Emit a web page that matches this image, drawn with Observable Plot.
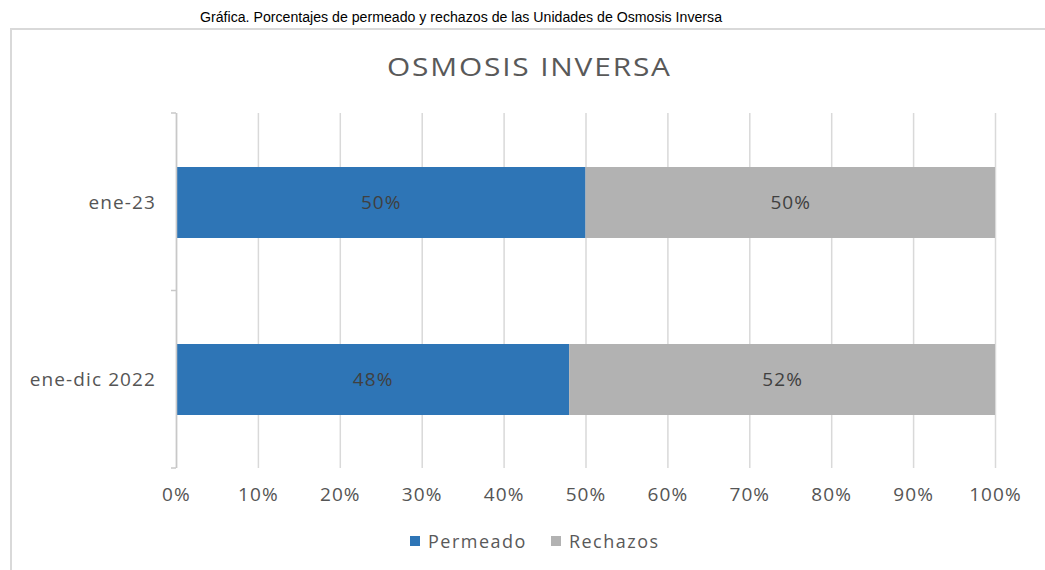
<!DOCTYPE html>
<html>
<head>
<meta charset="utf-8">
<script src="https://cdn.jsdelivr.net/npm/d3@7"></script>
<script src="https://cdn.jsdelivr.net/npm/@observablehq/plot@0.6"></script>
<style>
  html, body { margin: 0; padding: 0; background: #fff; }
  #wrap { position: relative; width: 1045px; height: 570px; overflow: hidden; background: #fff; }
  #caption { position: absolute; left: 200px; top: 7px; line-height: 20px; font-family: "Liberation Sans", Arial, sans-serif; font-size: 14px; color: #000; white-space: nowrap; transform-origin: 0 0; }
  #box { position: absolute; left: 10px; top: 28px; width: 1100px; height: 600px; border-top: 2px solid #d9d9d9; border-left: 2px solid #d9d9d9; }
  #title { position: absolute; top: 49px; line-height: 34px; font-family: "Open Sans", sans-serif; font-size: 26px; letter-spacing: 1.6px; color: #595959; white-space: nowrap; transform-origin: 0 0; }
  #chart { position: absolute; left: 0; top: 0; }
  #legend { position: absolute; top: 529px; left: 410px; line-height: 24px; font-family: "Open Sans", sans-serif; font-size: 18px; color: #595959; display: flex; letter-spacing: 1.5px; white-space: nowrap; }
  #legend .item { display: flex; align-items: center; margin-right: 24px; }
  #legend .sw { width: 10px; height: 10px; display: inline-block; margin-right: 8px; }
</style>
</head>
<body>
<div id="wrap">
  <div id="caption"></div>
  <div id="box"></div>
  <div id="title"></div>
  <div id="chart"></div>
  <div id="legend"></div>
</div>
<script>
const captionText = "Gráfica. Porcentajes de permeado y rechazos de las Unidades de Osmosis Inversa";
const titleText = "OSMOSIS INVERSA";
const categories = ["ene-23", "ene-dic 2022"];
const series = ["Permeado", "Rechazos"];
const permeado = [0.50, 0.48];
const rechazos = [0.50, 0.52];
const xTicks = [0, 0.1, 0.2, 0.3, 0.4, 0.5, 0.6, 0.7, 0.8, 0.9, 1.0];
const colors = ["#2e75b6", "#b2b2b2"];

const data = categories.flatMap((c, i) => [
  {cat: c, series: series[0], value: permeado[i]},
  {cat: c, series: series[1], value: rechazos[i]}
]);

// caption, fitted to the reference's width
const cap = document.getElementById("caption");
cap.textContent = captionText;
const capW = cap.getBoundingClientRect().width;
cap.style.transform = `scaleX(${522 / capW})`;

// title: horizontally widened glyphs, centred over the chart box
const ttl = document.getElementById("title");
ttl.textContent = titleText;
const tW = ttl.getBoundingClientRect().width - 1.6;
const tTarget = 283;
ttl.style.left = (528 - tTarget / 2) + "px";
ttl.style.transform = `scaleX(${tTarget / tW})`;

const pct = d3.format(".0%");

// left axis line with small ticks at category band boundaries
function bandTicks(index, scales, values, dimensions) {
  const {marginTop, marginBottom, marginLeft, height} = dimensions;
  const top = marginTop, bottom = height - marginBottom;
  const n = categories.length;
  const g = d3.create("svg:g").attr("stroke", "#c8c8c8").attr("stroke-width", 1.5);
  for (let k = 0; k <= n; k++) {
    const yy = top + k * (bottom - top) / n;
    g.append("line").attr("x1", marginLeft - 5).attr("x2", marginLeft).attr("y1", yy).attr("y2", yy);
  }
  return g.node();
}

const chart = Plot.plot({
  width: 1045,
  height: 520,
  marginLeft: 176,
  marginRight: 50,
  marginTop: 113,
  marginBottom: 52,
  style: {fontFamily: "'Open Sans', sans-serif", fontSize: "19px", letterSpacing: "1.1px", color: "#555555", background: "transparent", overflow: "visible"},
  x: {domain: [0, 1], ticks: xTicks, tickFormat: pct, tickSize: 0, tickPadding: 19, label: null},
  y: {domain: categories, paddingInner: 0.6, paddingOuter: 0.3, tickSize: 0, tickPadding: 20.5, label: null},
  color: {domain: series, range: colors},
  marks: [
    Plot.ruleX(xTicks, {stroke: "#d9d9d9", strokeWidth: 1.5}),
    Plot.barX(data, Plot.stackX({x: "value", y: "cat", fill: "series"})),
    Plot.text(data, Plot.stackX({x: "value", y: "cat", z: "series", text: d => pct(d.value), fill: "#404040", fontSize: 19})),
    Plot.ruleX([0], {stroke: "#c8c8c8", strokeWidth: 1.5}),
    bandTicks
  ]
});
document.getElementById("chart").appendChild(chart);

const legend = d3.select("#legend");
series.forEach((s, i) => {
  const it = legend.append("div").attr("class", "item");
  it.append("span").attr("class", "sw").style("background", colors[i]);
  it.append("span").text(s);
});
</script>
</body>
</html>
